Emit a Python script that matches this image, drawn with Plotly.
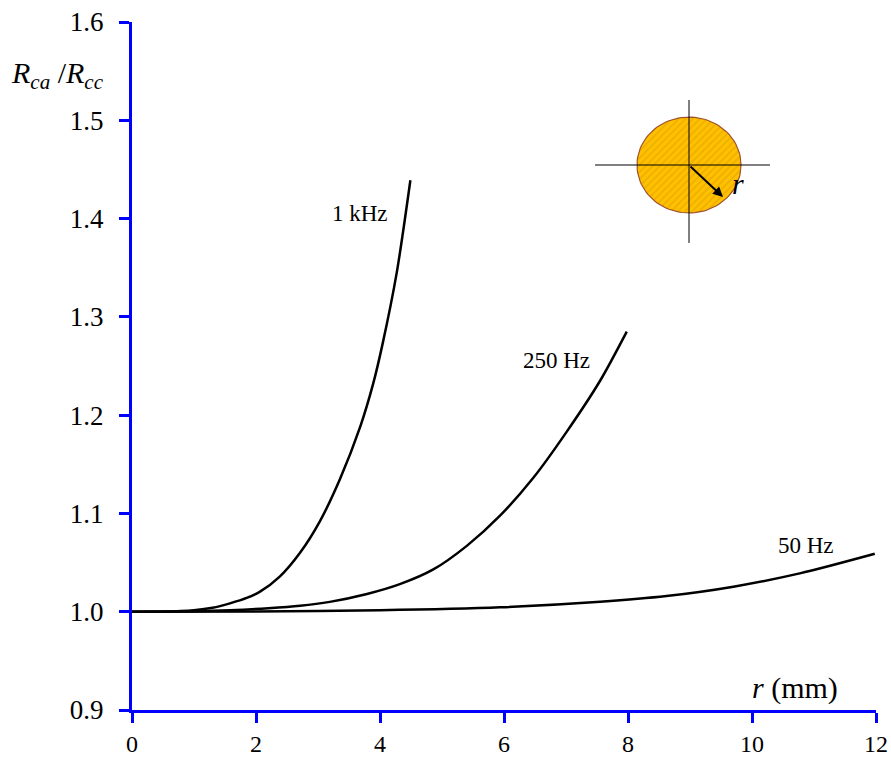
import numpy as np
import plotly.graph_objects as go

# ---- data ----
r_1k = [0.0, 0.5, 1.0, 1.3, 1.58, 1.85, 2.065, 2.387, 2.71, 3.03, 3.355, 3.68, 3.89, 4.04, 4.27, 4.49]
v_1k = [1.0, 1.0, 1.0015, 1.004, 1.0085, 1.014, 1.0204, 1.036, 1.060, 1.092, 1.135, 1.188, 1.232, 1.272, 1.345, 1.439]

r_250 = [0.0, 1.0, 1.58, 2.2, 2.71, 3.19, 3.79, 4.32, 4.86, 5.40, 5.94, 6.47, 7.01, 7.55, 7.98]
v_250 = [1.0, 1.0005, 1.0015, 1.0035, 1.006, 1.010, 1.018, 1.028, 1.043, 1.067, 1.098, 1.136, 1.183, 1.235, 1.285]

r_50 = [0.0, 2.0, 4.0, 5.94, 7.55, 8.62, 9.70, 10.77, 11.98]
v_50 = [1.0, 1.0003, 1.0015, 1.0045, 1.0102, 1.016, 1.0255, 1.039, 1.059]

curve_labels = ["1 kHz", "250 Hz", "50 Hz"]
label_x = [3.68, 6.85, 10.87]
label_y = [1.405, 1.256, 1.067]

x_ticks = [0, 2, 4, 6, 8, 10, 12]
y_ticks = [0.9, 1.0, 1.1, 1.2, 1.3, 1.4, 1.5, 1.6]

SERIF = "Liberation Serif, Times New Roman, serif"
BLUE = "#0000FF"

fig = go.Figure()

for xs, ys in [(r_1k, v_1k), (r_250, v_250), (r_50, v_50)]:
    fig.add_trace(go.Scatter(x=xs, y=ys, mode="lines",
                             line=dict(color="black", width=2.5, shape="spline", smoothing=0.8),
                             hoverinfo="skip", showlegend=False))

# inset: conductor cross-section
cx, cy, rx, ry = 8.984, 1.4545, 0.839, 0.0488
t = np.linspace(0, 2 * np.pi, 100)
fig.add_trace(go.Scatter(x=cx + rx * np.cos(t), y=cy + ry * np.sin(t), mode="lines",
                         fill="toself", fillcolor="#FFC000",
                         fillpattern=dict(shape="/", fgcolor="#D89C00", bgcolor="#FFC000",
                                          size=5, solidity=0.3),
                         line=dict(color="#A0522D", width=1.2),
                         hoverinfo="skip", showlegend=False))

shapes = [
    dict(type="line", xref="x", yref="y", x0=7.468, x1=10.29, y0=cy, y1=cy,
         line=dict(color="black", width=1)),
    dict(type="line", xref="x", yref="y", x0=cx, x1=cx, y0=1.3752, y1=1.5206,
         line=dict(color="black", width=1)),
]

annotations = []
for txt, lx, ly in zip(curve_labels, label_x, label_y):
    annotations.append(dict(x=lx, y=ly, xref="x", yref="y", text=txt, showarrow=False,
                            font=dict(family=SERIF, size=23, color="black")))

annotations.append(dict(x=9.532, y=1.422, ax=cx, ay=cy, xref="x", yref="y", axref="x", ayref="y",
                        text="", showarrow=True, arrowhead=2, arrowsize=1, arrowwidth=2,
                        arrowcolor="black"))
annotations.append(dict(x=9.78, y=1.436, xref="x", yref="y", text="<i>r</i>", showarrow=False,
                        font=dict(family=SERIF, size=30, color="black")))

# axis titles
annotations.append(dict(x=-0.0995, y=0.923, xref="paper", yref="paper",
                        xanchor="center", yanchor="middle",
                        text="<i>R</i><sub><i>ca</i></sub> /<i>R</i><sub><i>cc</i></sub>",
                        showarrow=False, font=dict(family=SERIF, size=30, color="black")))
annotations.append(dict(x=0.891, y=0.004, xref="paper", yref="paper",
                        xanchor="center", yanchor="bottom",
                        text="<i>r</i> (mm)", showarrow=False,
                        font=dict(family=SERIF, size=30, color="black")))

fig.update_layout(
    width=891, height=758,
    margin=dict(l=132, r=15, t=22, b=48),
    paper_bgcolor="white", plot_bgcolor="white",
    shapes=shapes, annotations=annotations,
    hovermode=False,
    xaxis=dict(range=[0, 12], tickvals=x_ticks, ticktext=[str(v) for v in x_ticks],
               showgrid=False, zeroline=False, showline=True, linecolor=BLUE, linewidth=3,
               ticks="outside", ticklen=10, tickwidth=3, tickcolor=BLUE, automargin=False,
               tickfont=dict(family=SERIF, size=24, color="black")),
    yaxis=dict(range=[0.9, 1.6], tickvals=y_ticks, ticktext=[f"{v:.1f}" for v in y_ticks],
               showgrid=False, zeroline=False, showline=True, linecolor=BLUE, linewidth=3,
               ticks="outside", ticklen=10, tickwidth=3, tickcolor=BLUE, automargin=False,
               ticklabelstandoff=10,
               tickfont=dict(family=SERIF, size=27, color="black")),
)

fig.write_html("out.html", config={"displayModeBar": False},
               post_script="document.body.style.margin='0px';")
